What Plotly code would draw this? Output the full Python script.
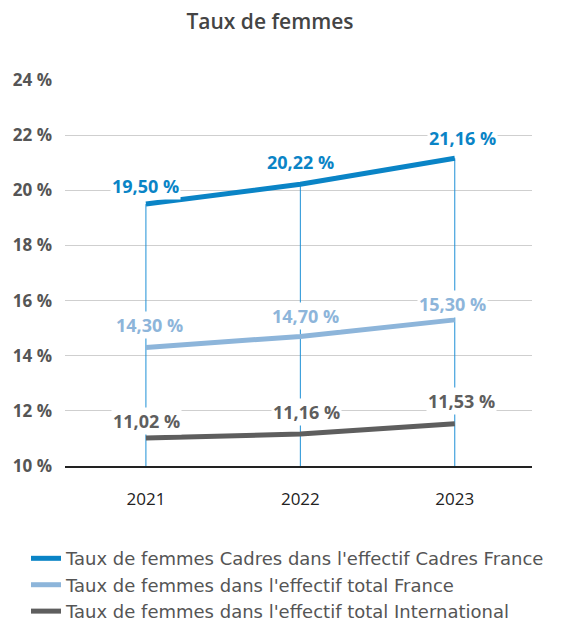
import plotly.graph_objects as go

years = ["2021", "2022", "2023"]
cadres_france = [19.50, 20.22, 21.16]
total_france = [14.30, 14.70, 15.30]
total_international = [11.02, 11.16, 11.53]

series_names = [
    "Taux de femmes Cadres dans l'effectif Cadres France",
    "Taux de femmes dans l'effectif total France",
    "Taux de femmes dans l'effectif total International",
]
series_values = [cadres_france, total_france, total_international]
series_colors = ["#0A84C6", "#8DB5DA", "#5E5E5E"]
label_colors = ["#0A84C6", "#8DB5DA", "#5E5E5E"]

y_ticks = [10, 12, 14, 16, 18, 20, 22, 24]
y_tick_text = [f"{v} %" for v in y_ticks]

# label offsets (pixels) per series and per year
label_shift = [
    [(0, 18), (0, 22), (8, 20)],
    [(4, 22), (5, 20), (-2, 16)],
    [(1, 17), (6, 22), (7, 23)],
]

FONT = "Open Sans"
WIDE = "DejaVu Sans"

fig = go.Figure()

# thin drop lines from the top series down to the axis
drop_x, drop_y = [], []
for yr, top in zip(years, cadres_france):
    drop_x += [yr, yr, None]
    drop_y += [y_ticks[0], top, None]
fig.add_trace(go.Scatter(
    x=drop_x, y=drop_y, mode="lines",
    line=dict(color="#1E90D6", width=1),
    showlegend=False, hoverinfo="skip",
))

for name, vals, col in zip(series_names, series_values, series_colors):
    fig.add_trace(go.Scatter(
        x=years, y=vals, mode="lines", name=name,
        line=dict(color=col, width=5, shape="spline", smoothing=0.3),
    ))

annotations = []
for vals, col, shifts in zip(series_values, label_colors, label_shift):
    for idx, (v, (dx, dy)) in enumerate(zip(vals, shifts)):
        annotations.append(dict(
            x=idx, y=v, xref="x", yref="y",
            text=f"{v:.2f} %".replace(".", ","),
            showarrow=False, xshift=dx, yshift=dy,
            font=dict(family=FONT, size=18, color=col, weight=700),
            bgcolor="white", borderpad=1,
        ))

fig.update_layout(
    width=569, height=621,
    margin=dict(l=65, r=37, t=80, b=155, autoexpand=False),
    paper_bgcolor="white", plot_bgcolor="white",
    annotations=annotations,
    title=dict(
        text="Taux de femmes", x=270 / 569, xanchor="center",
        y=1 - 22 / 621, yanchor="middle",
        font=dict(family=FONT, size=21, color="#444444", weight=600),
    ),
    xaxis=dict(
        type="category", range=[-0.524, 2.5],
        showgrid=False, showline=True, linecolor="#222222", linewidth=1.5,
        ticks="", ticklabelstandoff=17,
        tickfont=dict(family=FONT, size=17, color="#222222"),
        fixedrange=True,
    ),
    yaxis=dict(
        range=[10, 24], tickvals=y_ticks, ticktext=y_tick_text,
        showgrid=True, gridcolor="#CFCFCF", gridwidth=1,
        zeroline=False, ticks="", ticklabelstandoff=12,
        tickfont=dict(family=FONT, size=17, color="#555555", weight=700),
        fixedrange=True,
    ),
    legend=dict(
        x=-0.0835, y=-0.192, xanchor="left", yanchor="top",
        orientation="v", itemwidth=30,
        font=dict(family=WIDE, size=18, color="#555555"),
    ),
    showlegend=True,
)

fig.write_html("out.html")
